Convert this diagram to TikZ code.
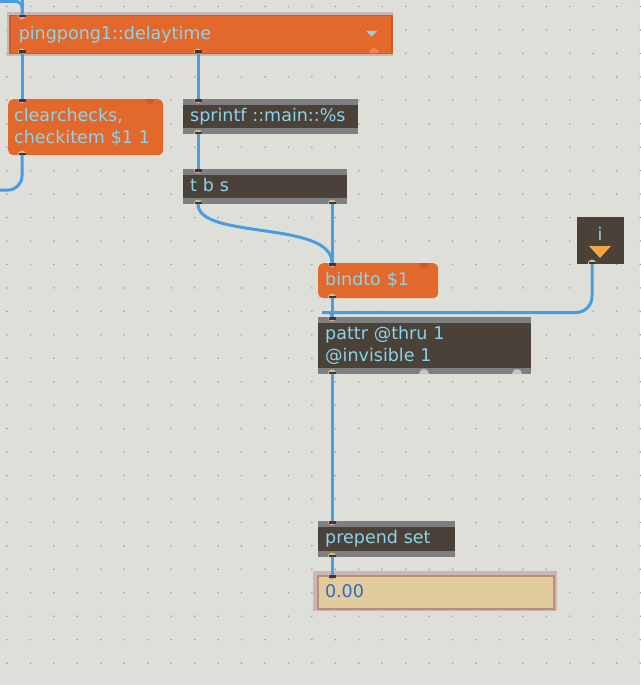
\documentclass[tikz,border=0pt]{standalone}
\usepackage{fontspec}
\setmainfont{DejaVu Sans}

\definecolor{patchbg}{HTML}{DFDFDA}
\definecolor{griddot}{HTML}{A2A29D}
\definecolor{msgorange}{HTML}{E3682B}
\definecolor{orangeedge}{HTML}{CF5A2C}
\definecolor{objdark}{HTML}{4A4139}
\definecolor{bargray}{HTML}{7F7E81}
\definecolor{cordblue}{HTML}{4A9CE0}
\definecolor{textblue}{HTML}{8DD3EA}
\definecolor{numfill}{HTML}{E2CC9E}
\definecolor{numedge}{HTML}{B8906F}
\definecolor{selring}{HTML}{CBB5B5}
\definecolor{numblue}{HTML}{2A6CC4}
\definecolor{inpink}{HTML}{E39C8E}
\definecolor{outyellow}{HTML}{C9C27E}
\definecolor{portdark}{HTML}{3A3838}
\definecolor{tri}{HTML}{F3A743}

\tikzset{
	box/.style={anchor=north west, inner xsep=7pt, inner ysep=0pt, align=left, text=textblue, font=\fontsize{17.5}{22}\selectfont},
	obj/.style={box, fill=objdark, path picture={
		\fill[bargray] (path picture bounding box.north west) rectangle ([yshift=-6pt]path picture bounding box.north east);
		\fill[bargray] (path picture bounding box.south west) rectangle ([yshift=6pt]path picture bounding box.south east);}},
	msg/.style={box, fill=msgorange, rounded corners=5pt},
	oneline/.style={text height=12.5pt, text depth=3.5pt},
	cord/.style={draw=cordblue, line width=3pt},
}

\begin{document}
\begin{tikzpicture}[x=1pt, y=-1pt]
\useasboundingbox (0,0) rectangle (640,685);
\fill[patchbg] (0,0) rectangle (640,685);

% grid
\foreach \i in {0,...,27}
	\foreach \j in {0,...,28}
		\fill[griddot] (7+23.45*\i, 6.5+23.45*\j) circle (0.9pt);

% boxes
\fill[selring] (7,12) rectangle (393,56);
\node at (9,15)[box, oneline, fill=msgorange, draw=orangeedge, line width=1.5pt, inner xsep=9pt, text width=364pt, minimum height=38pt](pp){pingpong1::delaytime};
\fill[textblue] (366,31) -- (377,31) -- (371.5,36.5) -- cycle;

\node at (8,99)[msg, inner xsep=6pt, text width=143pt, minimum height=56pt](clear){clearchecks,\\checkitem \$1 1};
\node at (183,99)[obj, oneline, text width=161pt, minimum height=35pt](sprintf){sprintf ::main::\%s};
\node at (183,169)[obj, oneline, text width=150pt, minimum height=35pt](tbs){t b s};
\node at (318,263)[msg, oneline, text width=106pt, minimum height=35pt](bind){bindto \$1};

\node at (577,217)[box, fill=objdark, minimum width=47pt, minimum height=47pt, inner xsep=0pt](ivar){};
\node at (600,240)[anchor=base, text=textblue, font=\fontsize{17.5}{22}\selectfont, inner sep=0pt](ilabel){i};
\fill[tri] (589,246) -- (611,246) -- (600,258) -- cycle;

\node at (318,317)[obj, text width=199pt, minimum height=57pt](pattr){pattr @thru 1\\@invisible 1};
\node at (318,521)[obj, oneline, text width=123pt, minimum height=36pt](prepend){prepend set};

\fill[selring] (313,571) rectangle (557,611);
\node at (317,575)[box, oneline, fill=numfill, draw=numedge, line width=2pt, text=numblue, text width=222pt, minimum height=33pt](num){0.00};

% ports
\coordinate (topin) at (22,0);
\coordinate (leftin) at (0,1.5);
\coordinate (ppin) at (22,15);
\coordinate (ppout1) at (22,53);
\coordinate (ppout2) at (198,53);
\coordinate (clearin) at (22,99);
\coordinate (clearout) at (22,155);
\coordinate (leftout) at (0,190);
\coordinate (sprintfin) at (198,99);
\coordinate (sprintfout) at (198,134);
\coordinate (tbsin) at (198,169);
\coordinate (tbsout1) at (198,204);
\coordinate (tbsout2) at (332,204);
\coordinate (bindin) at (332,263);
\coordinate (bindout) at (332,298);
\coordinate (iout) at (592,264);
\coordinate (ibend) at (338,312.5);
\coordinate (pattrin) at (332,317);
\coordinate (pattrout) at (332,374);
\coordinate (prependin) at (332,521);
\coordinate (prependout) at (332,557);
\coordinate (numin) at (332,575);

% cords
\draw[cord] (topin) -- (ppin);
\draw[cord, rounded corners=6pt] (leftin) -| (ppin);
\draw[cord] (ppout1) -- (clearin);
\draw[cord] (ppout2) -- (sprintfin);
\draw[cord, rounded corners=14pt] (clearout) |- (leftout);
\draw[cord] (sprintfout) -- (tbsin);
\draw[cord] (tbsout1) .. controls (198,240) and (332,220) .. (bindin);
\draw[cord] (tbsout2) -- (bindin);
\draw[cord] (bindout) -- (pattrin);
\draw[cord, rounded corners=16pt] (iout) |- (ibend) [sharp corners] .. controls (332,312.5) .. (pattrin);
\draw[cord] (pattrout) -- (prependin);
\draw[cord] (prependout) -- (numin);

\foreach \p in {ppin,clearin,sprintfin,tbsin,bindin,pattrin,prependin,numin}
{
	\fill[inpink] ([xshift=-4.5pt]\p) arc[start angle=180, end angle=360, radius=4.5pt];
	\fill[portdark] ([xshift=-3.5pt]\p) rectangle ([xshift=3.5pt, yshift=-2.5pt]\p);
}

\foreach \p in {ppout1,ppout2,clearout,sprintfout,tbsout1,tbsout2,bindout,iout,pattrout,prependout}
{
	\fill[outyellow] ([xshift=-4.5pt]\p) arc[start angle=180, end angle=0, radius=4.5pt];
	\fill[portdark] ([xshift=-3.5pt]\p) rectangle ([xshift=3.5pt, yshift=2.5pt]\p);
}

% unused ports
\foreach \x in {424,517}
	\fill[black!22] (\x-5,374) arc[start angle=180, end angle=0, radius=5pt];
\fill[orangeedge] (145,99) arc[start angle=180, end angle=360, radius=5pt];
\fill[orangeedge] (419,263) arc[start angle=180, end angle=360, radius=5pt];
\fill[msgorange!80!white] (369,53) arc[start angle=180, end angle=0, radius=5pt];

\end{tikzpicture}
\end{document}
